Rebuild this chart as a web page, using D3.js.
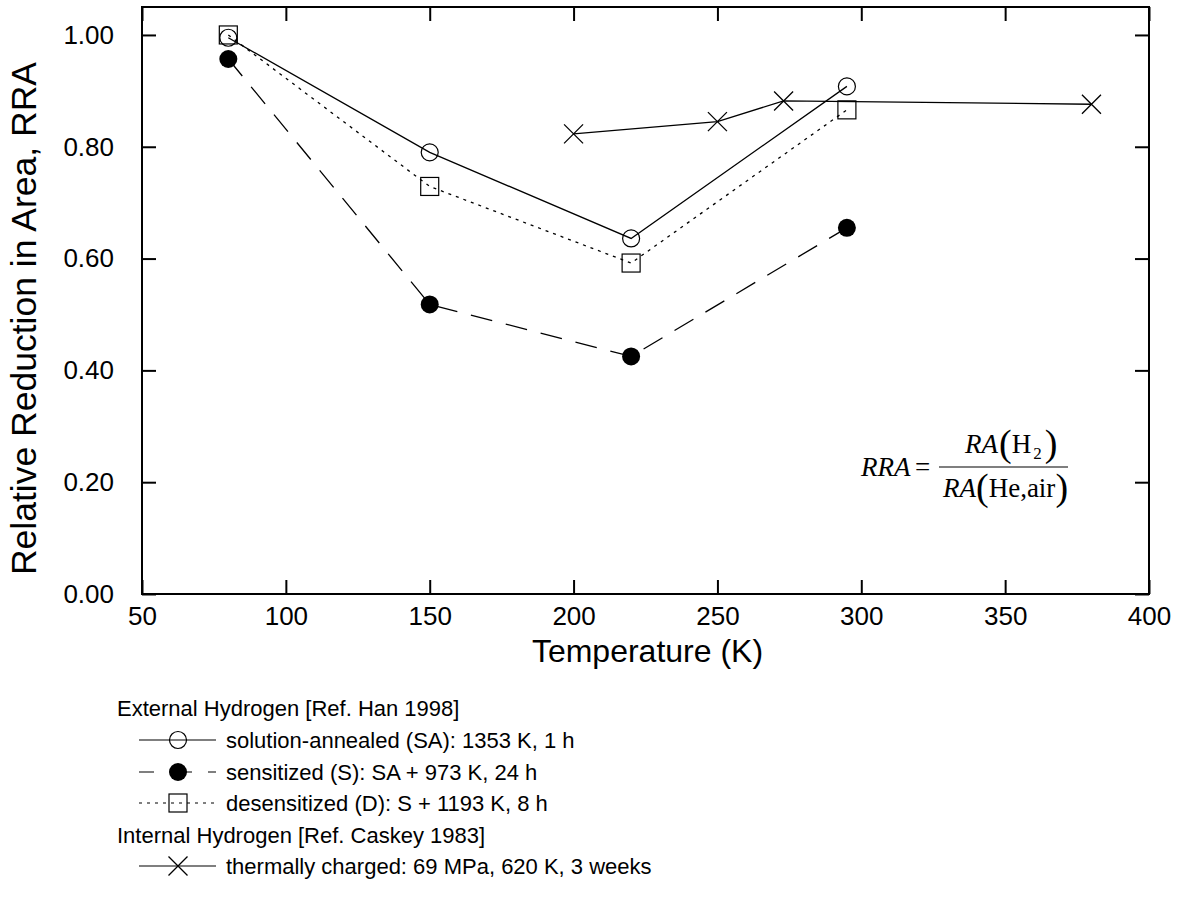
<!DOCTYPE html>
<html><head><meta charset="utf-8">
<script src="https://cdn.jsdelivr.net/npm/d3@7"></script>
<style>body{margin:0;background:#fff}svg{display:block}</style>
</head><body>
<script>
const temps = [80, 150, 220, 295];
const saValues = [0.995, 0.790, 0.636, 0.908];
const sValues = [0.957, 0.518, 0.425, 0.655];
const dValues = [1.000, 0.729, 0.592, 0.866];
const caskeyTemps = [200, 250, 273, 380];
const caskeyValues = [0.823, 0.845, 0.882, 0.876];
const xTicks = [50, 100, 150, 200, 250, 300, 350, 400];
const yTicks = [0, 0.2, 0.4, 0.6, 0.8, 1.0];
const legendLabels = ["solution-annealed (SA): 1353 K, 1 h", "sensitized (S): SA + 973 K, 24 h", "desensitized (D): S + 1193 K, 8 h", "thermally charged: 69 MPa, 620 K, 3 weeks"];
const legendHeaders = ["External Hydrogen [Ref. Han 1998]", "Internal Hydrogen [Ref. Caskey 1983]"];

const W = 1177, H = 903;
const L = 142, R = 1149, T = 7, B = 594;
const svg = d3.select("body").append("svg").attr("width", W).attr("height", H);
const x = d3.scaleLinear().domain([50, 400]).range([L, R]);
const y = d3.scaleLinear().domain([0, 1.05]).range([B, T]);
const font = "Liberation Sans, Arial, sans-serif";

svg.append("rect").attr("x", L).attr("y", T).attr("width", R - L).attr("height", B - T)
  .attr("fill", "none").attr("stroke", "#000").attr("stroke-width", 2);

const tk = 14;
const gx = svg.append("g").attr("transform", `translate(0,${B})`)
  .call(d3.axisBottom(x).tickValues(xTicks).tickSize(-tk).tickPadding(tk - 1).tickFormat(d3.format("d")));
const gxt = svg.append("g").attr("transform", `translate(0,${T})`)
  .call(d3.axisTop(x).tickValues(xTicks).tickSize(-tk).tickFormat(""));
const gy = svg.append("g").attr("transform", `translate(${L},0)`)
  .call(d3.axisLeft(y).tickValues(yTicks).tickSize(-tk).tickPadding(tk + 14).tickFormat(d3.format(".2f")));
const gyr = svg.append("g").attr("transform", `translate(${R},0)`)
  .call(d3.axisRight(y).tickValues(yTicks).tickSize(-tk).tickFormat(""));
[gx, gxt, gy, gyr].forEach(g => {
  g.attr("font-family", font).attr("font-size", 26);
  g.select(".domain").remove();
  g.selectAll(".tick line").attr("stroke", "#000").attr("stroke-width", 2);
  g.selectAll("text").attr("fill", "#000");
});

svg.append("text").attr("x", (L + R) / 2 + 2).attr("y", 662).attr("text-anchor", "middle")
  .attr("font-family", font).attr("font-size", 32).text("Temperature (K)");
svg.append("text").attr("transform", `translate(36,${(T + B) / 2 + 18}) rotate(-90)`).attr("text-anchor", "middle")
  .attr("font-family", font).attr("font-size", 35.5).text("Relative Reduction in Area, RRA");

const line = d3.line().x(d => x(d[0])).y(d => y(d[1]));
const series = [
  {t: temps, v: saValues, dash: null, marker: "circle"},
  {t: temps, v: sValues, dash: "22,14", marker: "dot"},
  {t: temps, v: dValues, dash: "3,5", marker: "square"},
  {t: caskeyTemps, v: caskeyValues, dash: null, marker: "cross"}
];

function drawMarker(g, type, cx, cy) {
  if (type === "circle") g.append("circle").attr("cx", cx).attr("cy", cy).attr("r", 8.5).attr("fill", "none").attr("stroke", "#000").attr("stroke-width", 1.2);
  else if (type === "dot") g.append("circle").attr("cx", cx).attr("cy", cy).attr("r", 9).attr("fill", "#000");
  else if (type === "square") g.append("rect").attr("x", cx - 9).attr("y", cy - 9).attr("width", 18).attr("height", 18).attr("fill", "none").attr("stroke", "#000").attr("stroke-width", 1.2);
  else if (type === "cross") {
    const s = 9.5;
    g.append("path").attr("d", `M${cx - s},${cy - s}L${cx + s},${cy + s}M${cx - s},${cy + s}L${cx + s},${cy - s}`).attr("stroke", "#000").attr("stroke-width", 1.3);
  }
}

series.forEach(s => {
  const pts = s.t.map((t, i) => [t, s.v[i]]);
  svg.append("path").datum(pts).attr("d", line).attr("fill", "none").attr("stroke", "#000")
    .attr("stroke-width", 1.3).attr("stroke-dasharray", s.dash);
  const g = svg.append("g");
  pts.forEach(p => drawMarker(g, s.marker, x(p[0]), y(p[1])));
});

// formula
const ff = "Liberation Serif, Times New Roman, serif";
const fg = svg.append("g").attr("font-family", ff).attr("font-size", 27);
fg.append("text").attr("x", 861).attr("y", 476).attr("font-style", "italic").text("RRA");
fg.append("text").attr("x", 915).attr("y", 476).text("=");
fg.append("line").attr("x1", 939).attr("x2", 1068).attr("y1", 467).attr("y2", 467).attr("stroke", "#000").attr("stroke-width", 1.2);
const num = fg.append("text").attr("x", 965).attr("y", 453);
num.append("tspan").attr("font-style", "italic").text("RA");
num.append("tspan").attr("font-size", 38).attr("dy", 3).attr("dx", 1).text("(");
num.append("tspan").attr("dy", -3).text("H");
num.append("tspan").attr("font-size", 17).attr("dy", 6).attr("dx", 2).text("2");
num.append("tspan").attr("font-size", 38).attr("dy", -3).attr("dx", 3).text(")");
const den = fg.append("text").attr("x", 943).attr("y", 497);
den.append("tspan").attr("font-style", "italic").text("RA");
den.append("tspan").attr("font-size", 38).attr("dy", 3).text("(");
den.append("tspan").attr("dy", -3).text("He,air");
den.append("tspan").attr("font-size", 38).attr("dy", 3).text(")");

// legend
const lg = svg.append("g").attr("font-family", font).attr("font-size", 22);
lg.append("text").attr("x", 117).attr("y", 716).text(legendHeaders[0]);
lg.append("text").attr("x", 117).attr("y", 843).text(legendHeaders[1]);
const rowsY = [740, 772, 803, 866];
const legendDash = [null, "15,30,8,16,8,20", "3,5", null];
series.forEach((s, i) => {
  const ly = rowsY[i];
  lg.append("line").attr("x1", 139).attr("x2", 216).attr("y1", ly).attr("y2", ly)
    .attr("stroke", "#000").attr("stroke-width", 1.2).attr("stroke-dasharray", legendDash[i]);
  drawMarker(lg, s.marker, 178, ly);
  lg.append("text").attr("x", 226).attr("y", ly + 8).text(legendLabels[i]);
});
</script>
</body></html>
